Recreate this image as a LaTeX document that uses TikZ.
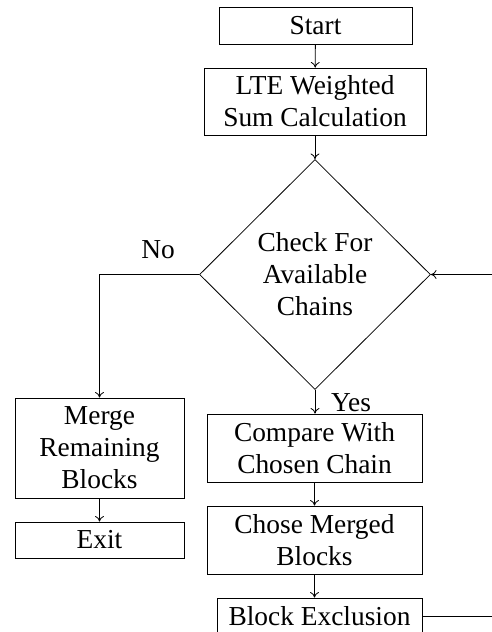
\documentclass[tikz,border=0pt]{standalone}
\usepackage{fontspec}
\setmainfont{Liberation Serif}
\usetikzlibrary{positioning,shapes.geometric,arrows.meta}
\begin{document}
\begin{tikzpicture}[x=0.5pt, y=-0.5pt,
  font=\fontsize{13.7}{16}\selectfont, >={To[length=2.8pt,width=4.4pt]},
  box/.style={draw, align=center, inner sep=1pt},
  dcs/.style={draw, diamond, aspect=1, align=center, inner sep=0pt, minimum width=115.5pt, minimum height=115pt}]
\useasboundingbox (0,0) rectangle (492,632);
% main column
\node[box, minimum width=96.5pt, minimum height=18.5pt] (start) at (315.5,25.5) {Start};
\node[box, minimum width=111pt, minimum height=33.5pt] (lte) at (315,101.5) {LTE Weighted\\Sum Calculation};
\node[dcs] (check) at (315,274.5) {Check For\\Available\\Chains};
\node[box, minimum width=107.5pt, minimum height=34pt] (cmp) at (314.5,448) {Compare With\\Chosen Chain};
\node[box, minimum width=107.5pt, minimum height=34pt] (chose) at (314.5,540) {Chose Merged\\Blocks};
\node[box, minimum width=102.5pt, minimum height=18pt] (excl) at (319.5,616) {Block Exclusion};
% left branch
\node[box, minimum width=84.5pt, minimum height=50pt] (merge) at (99.5,448) {Merge\\Remaining\\Blocks};
\node[box, minimum width=84.5pt, minimum height=18pt] (exit) at (99.5,540) {Exit};
% labels
\node (no) at (158,250) {No};
\node (yes) at (351,403) {Yes};
% connectors
\draw[->] (start) -- (lte);
\draw[->] (lte) -- (check);
\draw[->] (check.west) -| (merge.north);
\draw[->] (merge) -- (exit);
\draw[->] (check.south) -- (check.south |- cmp.north);
\draw[->] (cmp.south) -- (cmp.south |- chose.north);
\draw[->] (chose.south) -- (chose.south |- excl.north);
\draw[->] (excl.east) -- ++(90,0) |- (check.east);
\end{tikzpicture}
\end{document}
